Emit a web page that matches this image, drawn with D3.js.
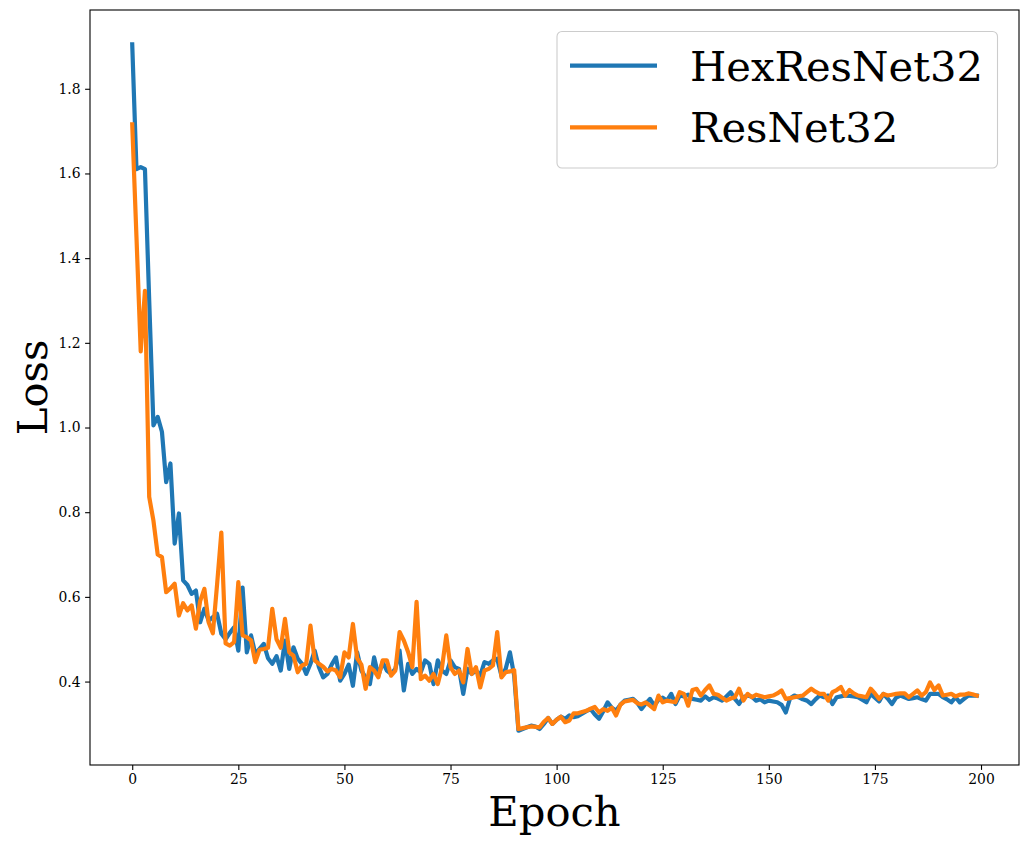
<!DOCTYPE html>
<html><head><meta charset="utf-8">
<script src="https://cdn.jsdelivr.net/npm/d3@7/dist/d3.min.js"></script>
<style>body{margin:0;background:#fff}svg{display:block}text{font-family:"DejaVu Serif",serif}</style>
</head><body><svg id="c" width="1029" height="846"></svg>
<script>
const seriesNames = ["HexResNet32", "ResNet32"];
const seriesColors = ["#1f77b4", "#ff7f0e"];
const xTicks = [0, 25, 50, 75, 100, 125, 150, 175, 200];
const yTicks = [0.4, 0.6, 0.8, 1.0, 1.2, 1.4, 1.6, 1.8];
const hexLoss = [
1.905,1.61,1.615,1.61,1.30,1.005,1.025,0.99,0.871,0.915,
0.726,0.797,0.639,0.628,0.607,0.615,0.54,0.572,0.544,0.552,
0.56,0.513,0.50,0.515,0.528,0.473,0.622,0.469,0.509,0.465,
0.477,0.489,0.455,0.442,0.46,0.426,0.497,0.430,0.481,0.454,
0.442,0.418,0.442,0.473,0.434,0.41,0.418,0.44,0.457,0.402,
0.418,0.44,0.39,0.469,0.426,0.41,0.394,0.457,0.414,0.446,
0.426,0.418,0.43,0.473,0.379,0.442,0.418,0.43,0.422,0.45,
0.442,0.394,0.45,0.426,0.418,0.45,0.434,0.43,0.371,0.43,
0.418,0.426,0.414,0.446,0.442,0.45,0.454,0.414,0.43,0.469,
0.414,0.284,0.288,0.292,0.296,0.294,0.288,0.30,0.314,0.30,
0.31,0.317,0.312,0.32,0.316,0.318,0.324,0.33,0.335,0.322,
0.312,0.33,0.351,0.338,0.331,0.345,0.355,0.357,0.359,0.35,
0.335,0.348,0.359,0.343,0.357,0.362,0.355,0.371,0.347,0.367,
0.365,0.369,0.359,0.357,0.355,0.365,0.357,0.363,0.36,0.355,
0.365,0.375,0.359,0.347,0.363,0.367,0.364,0.355,0.358,0.351,
0.355,0.353,0.351,0.345,0.327,0.36,0.367,0.363,0.358,0.355,
0.347,0.358,0.367,0.363,0.367,0.347,0.363,0.365,0.367,0.366,
0.365,0.363,0.357,0.351,0.371,0.362,0.353,0.371,0.36,0.347,
0.362,0.367,0.363,0.359,0.361,0.363,0.359,0.355,0.371,0.371,
0.371,0.363,0.358,0.351,0.363,0.351,0.359,0.367,0.367,0.367
];
const resLoss = [
1.716,1.45,1.18,1.323,0.836,0.78,0.70,0.694,0.611,0.62,
0.631,0.556,0.585,0.568,0.58,0.525,0.59,0.619,0.54,0.514,
0.63,0.752,0.49,0.485,0.493,0.635,0.509,0.505,0.497,0.446,
0.475,0.477,0.48,0.572,0.50,0.48,0.548,0.469,0.461,0.422,
0.438,0.442,0.532,0.45,0.442,0.435,0.424,0.43,0.426,0.41,
0.469,0.457,0.536,0.455,0.44,0.383,0.434,0.426,0.41,0.45,
0.45,0.414,0.426,0.517,0.497,0.47,0.434,0.588,0.406,0.414,
0.402,0.418,0.394,0.434,0.509,0.434,0.418,0.426,0.398,0.477,
0.418,0.434,0.386,0.426,0.43,0.438,0.517,0.41,0.422,0.424,
0.427,0.288,0.29,0.292,0.294,0.293,0.292,0.305,0.314,0.30,
0.31,0.317,0.304,0.308,0.325,0.325,0.328,0.331,0.336,0.34,
0.327,0.335,0.331,0.338,0.32,0.345,0.353,0.355,0.357,0.349,
0.346,0.351,0.343,0.335,0.367,0.351,0.355,0.353,0.351,0.375,
0.371,0.343,0.38,0.383,0.367,0.38,0.391,0.371,0.369,0.362,
0.355,0.36,0.363,0.383,0.355,0.371,0.363,0.369,0.366,0.363,
0.365,0.367,0.372,0.379,0.359,0.361,0.363,0.365,0.367,0.375,
0.383,0.376,0.371,0.371,0.355,0.375,0.38,0.387,0.367,0.38,
0.372,0.367,0.365,0.363,0.383,0.372,0.359,0.371,0.367,0.369,
0.371,0.372,0.372,0.363,0.371,0.379,0.367,0.375,0.398,0.38,
0.391,0.367,0.369,0.371,0.365,0.369,0.369,0.372,0.37,0.367
];
const series = [hexLoss, resLoss];

const L = 90, R = 1019, T = 10, B = 765;
const n = hexLoss.length;
const allV = hexLoss.concat(resLoss);
const vmin = d3.min(allV), vmax = d3.max(allV);
const xpad = (n - 1) * 0.05, ypad = (vmax - vmin) * 0.05;
const x = d3.scaleLinear().domain([-xpad, n - 1 + xpad]).range([L, R]);
const y = d3.scaleLinear().domain([vmin - ypad, vmax + ypad]).range([B, T]);

const svg = d3.select("#c");
const g = svg.append("g");

const line = d3.line().x((d, i) => x(i)).y(d => y(d));
series.forEach((s, k) => {
  g.append("path").datum(s).attr("d", line).attr("fill", "none")
    .attr("stroke", seriesColors[k]).attr("stroke-width", 4.2)
    .attr("stroke-linejoin", "round").attr("stroke-linecap", "square");
});

// axes
const xAxis = d3.axisBottom(x).tickValues(xTicks).tickSize(4.9).tickPadding(4.5).tickFormat(d3.format("d"));
const yAxis = d3.axisLeft(y).tickValues(yTicks).tickSize(4.9).tickPadding(4.5).tickFormat(d3.format(".1f"));
const gx = svg.append("g").attr("transform", `translate(0,${B})`).call(xAxis);
const gy = svg.append("g").attr("transform", `translate(${L},0)`).call(yAxis);
[gx, gy].forEach(a => {
  a.select(".domain").remove();
  a.selectAll("line").attr("stroke", "#000").attr("stroke-width", 1.1);
  a.selectAll("text").attr("font-family", "DejaVu Serif").attr("font-size", 13.9).attr("fill", "#000");
});
svg.append("rect").attr("x", L).attr("y", T).attr("width", R - L).attr("height", B - T)
  .attr("fill", "none").attr("stroke", "#000").attr("stroke-width", 1.1);

// labels
svg.append("text").attr("x", (L + R) / 2).attr("y", 826).attr("text-anchor", "middle")
  .attr("font-size", 41.7).text("Epoch");
svg.append("text").attr("transform", `translate(47,${(T + B) / 2}) rotate(-90)`)
  .attr("text-anchor", "middle").attr("font-size", 41.7).text("Loss");

// legend
const lg = svg.append("g");
lg.append("rect").attr("x", 557).attr("y", 31.5).attr("width", 440.5).attr("height", 136.5)
  .attr("rx", 5).attr("fill", "#fff").attr("fill-opacity", 0.8).attr("stroke", "#cccccc").attr("stroke-width", 1.1);
const lys = [65.7, 127.3];
seriesNames.forEach((nm, k) => {
  lg.append("line").attr("x1", 570).attr("x2", 657).attr("y1", lys[k]).attr("y2", lys[k])
    .attr("stroke", seriesColors[k]).attr("stroke-width", 4.2);
  lg.append("text").attr("x", 690).attr("y", lys[k] + 15).attr("font-size", 41.7).text(nm);
});
</script></body></html>
